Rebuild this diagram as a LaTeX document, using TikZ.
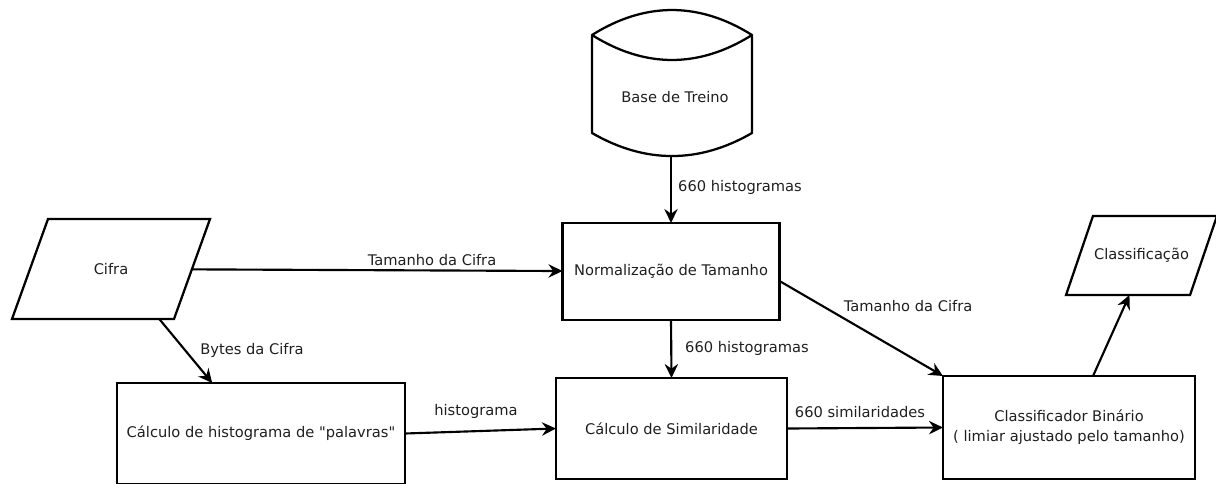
\documentclass[tikz,border=0pt]{standalone}
\usepackage{fontspec}
\setmainfont{DejaVu Sans}[Ligatures=TeXOff]
\usetikzlibrary{arrows.meta}
\definecolor{ink}{gray}{0.12}
\begin{document}
\begin{tikzpicture}[x=0.75pt,y=-0.75pt,
  font=\fontsize{11pt}{13pt}\selectfont,
  every node/.style={text=ink, inner sep=0pt, outer sep=0pt},
  outline/.style={draw=black, line width=1.7pt, line join=miter},
  box/.style={outline, rectangle, align=center},
  iobox/.style={rectangle, align=center},
  flow/.style={draw=black, line width=1.6pt, -{Stealth[length=10.5pt,width=10pt,inset=3.5pt]}},
  lbl/.style={text height=8pt, text depth=2pt}]
\useasboundingbox (0,0) rectangle (1216,483);

% training database drawn as a drum
\draw[outline, line join=round]
  (592,35) .. controls (645,1.7) and (699,1.7) .. (752,35)
  -- (752,133) .. controls (699,163.7) and (645,163.7) .. (592,133) -- cycle;
\draw[outline] (592,35) .. controls (645,68.3) and (699,68.3) .. (752,35);
\node (base) at (675,97) {Base de Treino};
\coordinate (base-out) at (671,156);

% inputs / outputs (parallelograms around plain nodes)
\node[iobox, minimum width=121.5pt, minimum height=75pt] (cifra) at (111,269) {Cifra};
\draw[outline] ([xshift=13.5pt]cifra.north west) -- ([xshift=13.5pt]cifra.north east)
  -- ([xshift=-13.5pt]cifra.south east) -- ([xshift=-13.5pt]cifra.south west) -- cycle;
\node[iobox, minimum width=93pt, minimum height=59.25pt] (saida) at (1141.5,255.5) {Classificação};
\draw[outline] ([xshift=10.1pt]saida.north west) -- ([xshift=10.1pt]saida.north east)
  -- ([xshift=-10.1pt]saida.south east) -- ([xshift=-10.1pt]saida.south west) -- cycle;

% processing steps
\node[box, minimum width=162.75pt, minimum height=72.75pt] (norm) at (671,271.5) {Normalização de Tamanho};
\node[box, minimum width=173.25pt, minimum height=75.75pt] (simil) at (671.5,428.5) {Cálculo de Similaridade};
\node[box, minimum width=216pt, minimum height=75.75pt] (histo) at (261,433.5) {Cálculo de histograma de "palavras"};
\node[box, minimum width=189pt, minimum height=77.25pt,
      font=\fontsize{11pt}{15pt}\selectfont] (classif) at (1069,427.5)
      {Classificador Binário\\( limiar ajustado pelo tamanho)};

% connectors
\draw[flow] (base-out) -- (base-out |- norm.north);
\draw[flow] (cifra) -- (norm);
\draw[flow] (cifra.-46) -- (histo.134);
\draw[flow] (histo.east) -- (simil.west);
\draw[flow] (norm.south) -- (simil.north);
\draw[flow] (simil.east) -- (classif.west);
\draw[flow] (norm.-5.5) -- (classif.north west);
\draw[flow] (classif.65.9) -- (saida.-107.4);

% connector labels
\node[lbl] (l-base) at (740,187) {660 histogramas};
\node[lbl] (l-tam1) at (432,261) {Tamanho da Cifra};
\node[lbl] (l-bytes) at (252,350) {Bytes da Cifra};
\node[lbl] (l-hist) at (476,411) {histograma};
\node[lbl] (l-norm) at (747,348) {660 histogramas};
\node[lbl] (l-sim) at (860,413) {660 similaridades};
\node[lbl] (l-tam2) at (908,307) {Tamanho da Cifra};
\end{tikzpicture}
\end{document}
